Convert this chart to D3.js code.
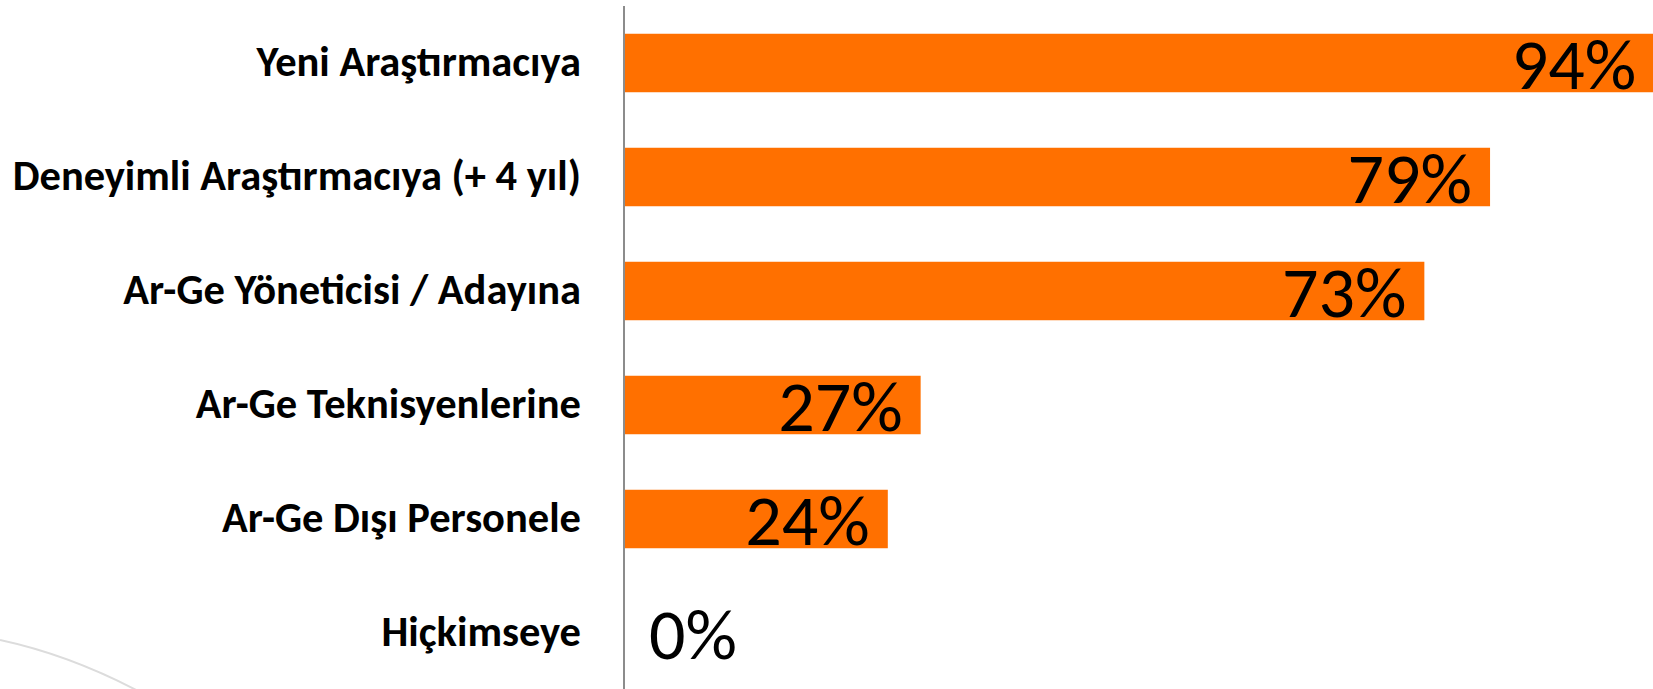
<!DOCTYPE html>
<html>
<head>
<meta charset="utf-8">
<script src="https://cdn.jsdelivr.net/npm/d3@7"></script>
<style>
  html, body { margin: 0; padding: 0; background: #fff; }
  svg { display: block; }
  .cat-label { font-family: Carlito, Calibri, "Open Sans", sans-serif; font-weight: bold; fill: #000; }
  .val-label { font-family: Carlito, Calibri, "Open Sans", sans-serif; fill: #000; }
</style>
</head>
<body>
<div id="chart"></div>
<script>
const categories = [
  "Yeni Araştırmacıya",
  "Deneyimli Araştırmacıya (+ 4 yıl)",
  "Ar-Ge Yöneticisi / Adayına",
  "Ar-Ge Teknisyenlerine",
  "Ar-Ge Dışı Personele",
  "Hiçkimseye"
];
const values = [94, 79, 73, 27, 24, 0];

(function () {
  const W = 1653, H = 689;
  const axisX = 624;
  const labelRight = 581;

  const svg = d3.select("#chart").append("svg")
    .attr("width", W).attr("height", H);

  // faint slide decoration, bottom left
  svg.append("path")
    .attr("d", "M0,640 Q70,655 140,692")
    .attr("fill", "none")
    .attr("stroke", "#dcdcdc")
    .attr("stroke-width", 2);

  const x = d3.scaleLinear().domain([0, 100]).range([axisX + 1, axisX + 1 + 1095]);
  const y = d3.scaleBand().domain(categories).range([6, 690])
    .paddingInner(0.487).paddingOuter(0.2435);

  svg.append("g").selectAll("rect")
    .data(values)
    .join("rect")
    .attr("x", x(0))
    .attr("y", (d, i) => y(categories[i]))
    .attr("width", d => x(d) - x(0))
    .attr("height", y.bandwidth())
    .attr("fill", "#ff7000");

  // axis line
  svg.append("line")
    .attr("x1", axisX).attr("x2", axisX)
    .attr("y1", 6).attr("y2", H)
    .attr("stroke", "#8c8c8c").attr("stroke-width", 2);

  // category labels
  svg.append("g").selectAll("text")
    .data(categories)
    .join("text")
    .attr("class", "cat-label")
    .attr("x", labelRight)
    .attr("y", d => y(d) + y.bandwidth() / 2 + 13)
    .attr("text-anchor", "end")
    .style("font-size", "42.5px")
    .text(d => d);

  // value labels
  svg.append("g").selectAll("text")
    .data(values)
    .join("text")
    .attr("class", "val-label")
    .attr("x", d => d > 5 ? x(d) - 18 : x(0) + 24)
    .attr("y", (d, i) => y(categories[i]) + y.bandwidth() / 2 + 26)
    .attr("text-anchor", d => d > 5 ? "end" : "start")
    .style("font-size", "72px")
    .text(d => d + "%");
})();
</script>
</body>
</html>
